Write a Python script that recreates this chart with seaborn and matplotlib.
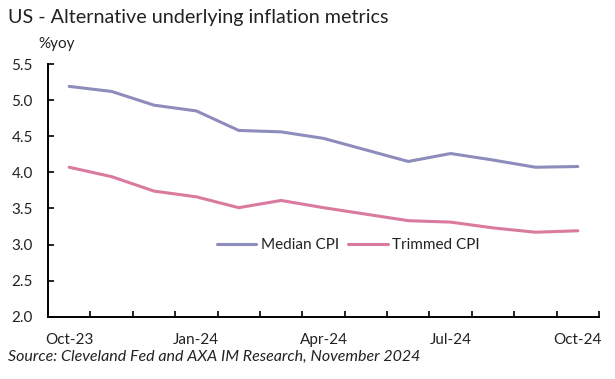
import matplotlib
matplotlib.use("Agg")
import matplotlib.pyplot as plt
import seaborn as sns
import pandas as pd
from matplotlib.ticker import FixedLocator, NullFormatter, FixedFormatter

months = ["Oct-23", "Nov-23", "Dec-23", "Jan-24", "Feb-24", "Mar-24", "Apr-24",
          "May-24", "Jun-24", "Jul-24", "Aug-24", "Sep-24", "Oct-24"]
median_cpi = [5.19, 5.12, 4.93, 4.85, 4.58, 4.56, 4.47, 4.31, 4.15, 4.26, 4.17, 4.07, 4.08]
trimmed_cpi = [4.07, 3.94, 3.74, 3.66, 3.51, 3.61, 3.51, 3.42, 3.33, 3.31, 3.23, 3.17, 3.19]
series_names = ["Median CPI", "Trimmed CPI"]
series_colors = ["#8e8cbd", "#d97a9e"]
tick_label_months = ["Oct-23", "Jan-24", "Apr-24", "Jul-24", "Oct-24"]
y_ticks = [2.0, 2.5, 3.0, 3.5, 4.0, 4.5, 5.0, 5.5]

sns.set_theme(style="white")
plt.rcParams["font.family"] = ["Lato", "DejaVu Sans"]

df = pd.DataFrame({
    "pos": list(range(len(months))) * 2,
    "value": median_cpi + trimmed_cpi,
    "series": [series_names[0]] * len(months) + [series_names[1]] * len(months),
})

fig = plt.figure(figsize=(6.15, 3.79), dpi=100)
ax = fig.add_axes([48 / 615, 1 - 316.7 / 379, (599 - 48) / 615, (316.7 - 64) / 379])

sns.lineplot(data=df, x="pos", y="value", hue="series", palette=series_colors,
             linewidth=2.2, ax=ax, legend=True)

ax.set_xlim(-0.5, len(months) - 0.5)
ax.set_ylim(2.0, 5.5)
ax.set_xlabel("")
ax.set_ylabel("")

# x ticks: marks between categories, labels on selected months
ax.xaxis.set_major_locator(FixedLocator([i - 0.5 for i in range(len(months) + 1)]))
ax.xaxis.set_major_formatter(NullFormatter())
label_pos = [months.index(m) for m in tick_label_months]
ax.xaxis.set_minor_locator(FixedLocator(label_pos))
ax.xaxis.set_minor_formatter(FixedFormatter(tick_label_months))
ax.tick_params(axis="x", which="major", direction="in", length=4, width=1.2, color="black", bottom=True)
ax.tick_params(axis="x", which="minor", length=0, pad=12, labelsize=11, labelcolor="#222222", bottom=True)

ax.set_yticks(y_ticks)
ax.set_yticklabels([f"{v:.1f}" for v in y_ticks])
ax.tick_params(axis="y", direction="in", length=4, width=1.2, color="black", left=True,
               labelsize=11, labelcolor="#222222", pad=11)

for s in ["top", "right"]:
    ax.spines[s].set_visible(False)
for s in ["left", "bottom"]:
    ax.spines[s].set_color("black")
    ax.spines[s].set_linewidth(1.4)

leg = ax.legend(loc="center", bbox_to_anchor=(0.545, 0.284), ncol=2, frameon=False,
                fontsize=11, handlelength=2.6, columnspacing=0.6, handletextpad=0.3)
for t in leg.get_texts():
    t.set_color("#222222")

fig.text(8 / 615, 1 - 17 / 379, "US - Alternative underlying inflation metrics",
         fontsize=14.2, va="center", ha="left", color="#222222")
fig.text(38 / 615, 1 - 44 / 379, "%yoy", fontsize=11, va="center", ha="left", color="#222222")
fig.text(8 / 615, 1 - 357 / 379, "Source: Cleveland Fed and AXA IM Research, November 2024",
         fontsize=11.5, style="italic", va="center", ha="left", color="#222222")

fig.savefig("out.png", dpi=100)
